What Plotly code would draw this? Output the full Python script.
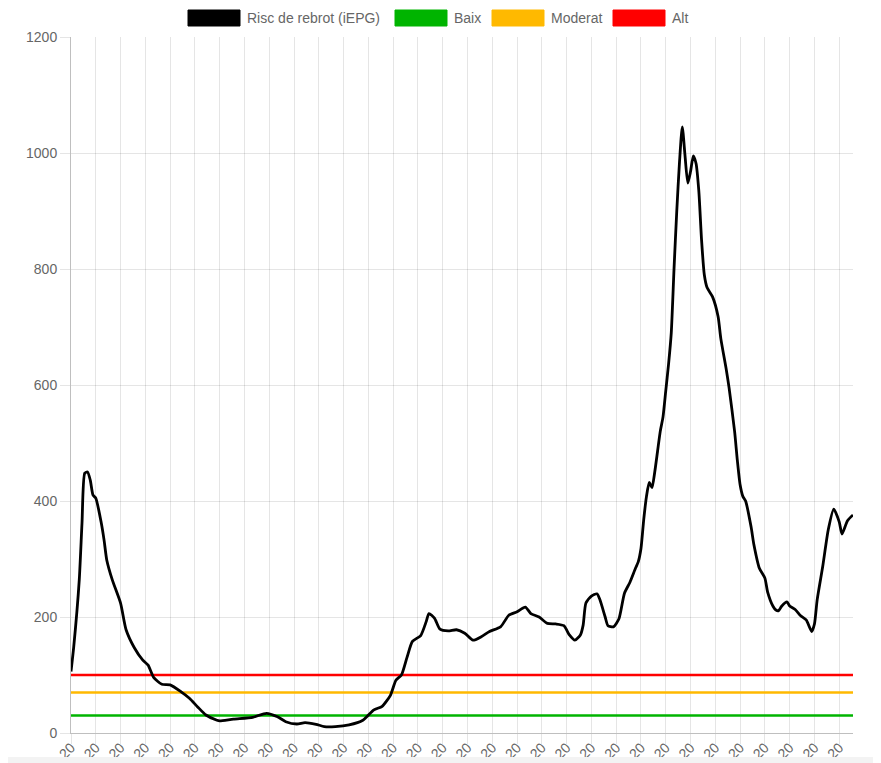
import plotly.graph_objects as go

# ------------------------------------------------------------------
# Data
# ------------------------------------------------------------------
# x = day number counted from 20-03-2020, y = iEPG value
day = [0, 1, 3, 4, 5, 6, 7, 8, 9, 11, 12, 13, 15, 18, 20, 23, 26, 28, 30, 33,
       36, 40, 43, 46, 49, 53, 54, 59, 66, 71, 75, 78, 82, 85, 89, 92, 96, 101,
       106, 110, 113, 116, 118, 120, 122, 124, 127, 129, 130, 132, 134, 137,
       140, 143, 146, 149, 152, 156, 159, 162, 165, 167, 170, 173, 176, 179,
       181, 183, 185, 186, 187, 189, 191, 192, 194, 195, 197, 199, 201, 203,
       205, 206, 207, 208, 209, 210, 211, 212, 213, 214, 215, 216, 217, 218,
       219, 220, 221, 222, 223, 224, 225, 226, 227, 228, 229, 230, 231, 233,
       235, 236, 238, 239, 241, 242, 243, 244, 245, 247, 248, 250, 252, 253,
       255, 256, 257, 258, 260, 261, 263, 265, 267, 269, 270, 271, 273, 275,
       277, 279, 280, 282, 284]
iepg = [106, 149, 264, 362, 448, 450, 436, 410, 405, 362, 333, 298, 264, 224,
        178, 147, 126, 117, 96, 84, 83, 71, 60, 45, 31, 22, 21, 24, 27, 34, 28,
        19.5, 15.5, 18, 15, 11, 11, 14, 22, 40, 46, 65, 91, 100, 130, 158, 168,
        192, 206, 198, 179, 176, 178, 172, 160, 166, 175, 183, 203, 209, 217,
        206, 200, 189, 188, 185, 169, 160, 169, 186, 224, 236, 240, 231, 200,
        185, 183, 197, 241, 260, 284, 295, 318, 368, 408, 432, 423, 450, 485,
        520, 545, 590, 635, 690, 800, 900, 985, 1045, 995, 948, 968, 995, 982,
        935, 850, 790, 768, 752, 718, 680, 626, 595, 520, 470, 428, 408, 400,
        355, 325, 284, 267, 243, 218, 212, 211, 218, 226, 219, 213, 202, 195,
        175, 188, 230, 287, 350, 386, 364, 343, 366, 376]
last_day = 284

tick_days = list(range(0, 285, 9))
tick_labels = ["20-03-20", "29-03-20", "07-04-20", "16-04-20", "25-04-20",
               "04-05-20", "13-05-20", "22-05-20", "31-05-20", "09-06-20",
               "18-06-20", "27-06-20", "06-07-20", "15-07-20", "24-07-20",
               "02-08-20", "11-08-20", "20-08-20", "29-08-20", "07-09-20",
               "16-09-20", "25-09-20", "04-10-20", "13-10-20", "22-10-20",
               "31-10-20", "09-11-20", "18-11-20", "27-11-20", "06-12-20",
               "15-12-20", "24-12-20"]

series_name = "Risc de rebrot (iEPG)"
threshold_names = ["Baix", "Moderat", "Alt"]
threshold_values = [30, 70, 100]

# ------------------------------------------------------------------
# Styling
# ------------------------------------------------------------------
PAGE_W, PAGE_H = 881, 763
OFF = 8                                  # default body margin of the html page
W, H = PAGE_W - OFF, PAGE_H - OFF
L, R, T, B = 71, 853, 37, 733            # plot area in page pixels
FONT = "Liberation Sans, Arial, sans-serif"
GREY = "#666666"
GRID = "rgba(0,0,0,0.1)"
AXIS = "rgba(0,0,0,0.25)"
threshold_colors = ["#00B400", "#FFB900", "#FF0000"]


def xp(x):
    return (x - L) / (R - L)


def yp(y):
    return (B - y) / (B - T)


fig = go.Figure()

for name, val, col in zip(threshold_names, threshold_values, threshold_colors):
    fig.add_trace(go.Scatter(
        x=[0, last_day], y=[val, val], mode="lines", name=name,
        line=dict(color=col, width=2.5), showlegend=False, hoverinfo="skip"
    ))

fig.add_trace(go.Scatter(
    x=day, y=iepg, mode="lines", name=series_name,
    line=dict(color="black", width=2.8, shape="spline", smoothing=0.6),
    showlegend=False
))

# hand-drawn legend (Chart.js style boxes)
legend_items = [(series_name, "black", 188), ("Baix", threshold_colors[0], 395),
                ("Moderat", threshold_colors[1], 492), ("Alt", threshold_colors[2], 613)]
shapes = []
annotations = []
for label, col, x0 in legend_items:
    shapes.append(dict(type="rect", xref="paper", yref="paper",
                       x0=xp(x0), x1=xp(x0 + 52), y0=yp(26), y1=yp(10),
                       fillcolor=col, line=dict(color=col, width=1), layer="above"))
    annotations.append(dict(text=label, xref="paper", yref="paper",
                            x=xp(x0 + 57), y=yp(18), xanchor="left", yanchor="middle",
                            showarrow=False, font=dict(family=FONT, size=14, color=GREY)))

# light strip along the bottom edge of the page
shapes.append(dict(type="rect", xref="paper", yref="paper",
                   x0=xp(0), x1=xp(PAGE_W + 5), y0=yp(PAGE_H + 5), y1=yp(757),
                   fillcolor="#f3f3f3", line=dict(width=0), layer="above"))

fig.update_layout(
    width=W, height=H,
    margin=dict(l=L - OFF, r=PAGE_W - R, t=T - OFF, b=PAGE_H - B, autoexpand=False),
    paper_bgcolor="white", plot_bgcolor="white",
    font=dict(family=FONT, size=14, color=GREY),
    showlegend=False,
    shapes=shapes, annotations=annotations,
    xaxis=dict(
        range=[0, last_day], tickmode="array", tickvals=tick_days, ticktext=tick_labels,
        tickangle=-45, ticks="outside", ticklen=10, tickcolor=GRID,
        ticklabelstandoff=-10,
        showgrid=True, gridcolor=GRID, gridwidth=1, zeroline=False,
        showline=True, linecolor=AXIS, linewidth=1, automargin=False,
        tickfont=dict(family=FONT, size=14, color=GREY)
    ),
    yaxis=dict(
        range=[0, 1200], tickmode="linear", tick0=0, dtick=200,
        ticks="outside", ticklen=10, tickcolor=GRID,
        showgrid=True, gridcolor=GRID, gridwidth=1, zeroline=False,
        showline=True, linecolor=AXIS, linewidth=1, automargin=False,
        tickfont=dict(family=FONT, size=14, color=GREY)
    ),
)

fig.write_html("out.html")
